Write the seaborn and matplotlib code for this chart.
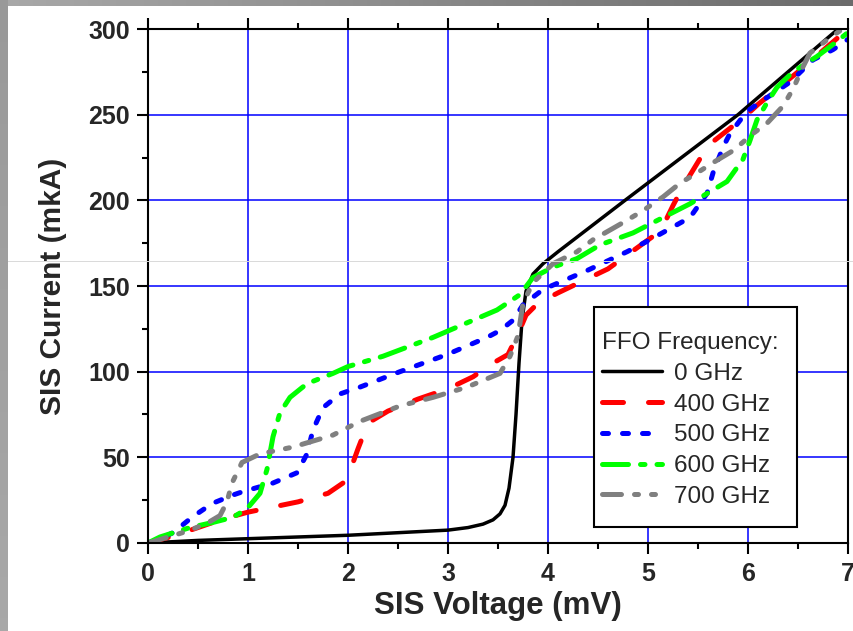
import numpy as np
import pandas as pd
import matplotlib
matplotlib.use("Agg")
import matplotlib.pyplot as plt
from matplotlib.lines import Line2D
from matplotlib.patches import Rectangle
import seaborn as sns

# ---- I-V curves of the SIS junction pumped by the FFO ----
v_0ghz = [0, 0.5, 1.0, 1.5, 2.0, 2.5, 3.0, 3.2, 3.35, 3.45, 3.52, 3.57, 3.61, 3.65,
          3.68, 3.71, 3.74, 3.78, 3.85, 3.95, 4.1, 4.77, 5.9, 6.9]
i_0ghz = [0, 1.5, 2.5, 3.5, 4.5, 6, 7.5, 9, 11, 13.5, 17, 22, 32, 50,
          75, 105, 130, 147, 157, 163, 170, 200, 250, 300]

v_400ghz = [0, 0.25, 0.5, 0.75, 1.0, 1.25, 1.5, 1.8, 1.95, 2.02, 2.1, 2.2, 2.4, 2.7,
            3.0, 3.25, 3.45, 3.6, 3.7, 3.78, 3.9, 4.1, 4.6, 5.05, 5.15, 5.25, 5.35,
            5.6, 5.95, 6.1, 6.5, 7.0]
i_400ghz = [0, 4, 9, 14, 18, 21, 24, 29, 35, 42, 55, 70, 77, 84,
            90, 97, 105, 110, 122, 133, 140, 146, 160, 179, 185, 197, 208,
            232, 248, 256, 275, 300]

v_500ghz = [0, 0.1, 0.25, 0.44, 0.64, 0.85, 0.95, 1.25, 1.49, 1.59, 1.65, 1.75, 1.92,
            2.12, 2.52, 2.99, 3.39, 3.52, 3.65, 3.75, 3.95, 4.15, 4.39, 4.79, 5.02,
            5.42, 5.59, 5.65, 5.75, 5.82, 5.99, 6.19, 6.42, 6.65, 6.85, 7.0]
i_500ghz = [0, 2, 6, 15, 23, 28, 30, 35, 41, 52, 66, 79, 87,
            91, 100, 110, 120, 124, 130, 139, 148, 153, 159, 170, 177,
            190, 204, 216, 231, 239, 252, 260, 269, 282, 288, 294]

v_600ghz = [0, 0.12, 0.42, 0.65, 0.85, 0.99, 1.12, 1.19, 1.25, 1.32, 1.42, 1.59, 1.85,
            2.0, 2.35, 2.85, 3.49, 3.72, 3.85, 4.05, 4.29, 4.52, 4.85, 5.05, 5.42,
            5.79, 5.95, 6.02, 6.09, 6.19, 6.29, 6.45, 6.69, 6.85, 7.0]
i_600ghz = [0, 3.5, 9, 12, 15, 20, 29, 43, 62, 76, 85, 93, 99,
            103, 109, 120, 136, 145, 155, 161, 166, 174, 181, 187, 198,
            211, 224, 235, 247, 257, 266, 275, 284, 291, 298]

v_700ghz = [0, 0.12, 0.4, 0.59, 0.72, 0.79, 0.84, 0.94, 1.12, 1.45, 1.85, 2.12, 2.52,
            2.85, 3.19, 3.52, 3.62, 3.7, 3.75, 3.85, 4.05, 4.29, 4.45, 4.75, 4.95,
            5.15, 5.32, 5.49, 5.65, 5.85, 6.05, 6.19, 6.35, 6.45, 6.55, 6.62, 6.82, 6.92]
i_700ghz = [0, 2, 7, 11.5, 16, 24, 35, 47, 52, 56, 63, 71, 80,
            85, 91, 99, 109, 121, 140, 152, 163, 170, 177, 187, 194,
            202, 210, 216, 222, 229, 239, 245, 255, 265, 278, 286, 295, 299]

series_labels = ["0 GHz", "400 GHz", "500 GHz", "600 GHz", "700 GHz"]
series_colors = ["#000000", "#ff0000", "#0000ff", "#00ff00", "#808080"]

x_ticks = [0, 1, 2, 3, 4, 5, 6, 7]
x_minor = [0.5, 1.5, 2.5, 3.5, 4.5, 5.5, 6.5]
y_ticks = [0, 50, 100, 150, 200, 250, 300]
y_minor = [25, 75, 125, 175, 225, 275]

x_label = "SIS Voltage (mV)"
y_label = "SIS Current (mkA)"
legend_title = "FFO Frequency:"

# ---- long-form table ----
curves = [(v_0ghz, i_0ghz), (v_400ghz, i_400ghz), (v_500ghz, i_500ghz),
          (v_600ghz, i_600ghz), (v_700ghz, i_700ghz)]
frames = []
for lab, (v, i) in zip(series_labels, curves):
    frames.append(pd.DataFrame({"V": v, "I": i, "freq": lab}))
df = pd.concat(frames, ignore_index=True)

# ---- style ----
sns.set_style("white")
plt.rcParams["font.family"] = ["Liberation Sans", "DejaVu Sans"]

palette = dict(zip(series_labels, series_colors))
dashes = {
    "0 GHz": "",
    "400 GHz": (4.2, 5.0),
    "500 GHz": (1.2, 2.8),
    "600 GHz": (5.2, 2.4, 0.9, 2.4),
    "700 GHz": (3.8, 2.6, 0.8, 2.6, 0.8, 2.6),
}
sizes = {"0 GHz": 2.5, "400 GHz": 3.6, "500 GHz": 3.6, "600 GHz": 3.6, "700 GHz": 3.6}

fig, ax = plt.subplots(figsize=(8.54, 6.31), dpi=100)
fig.subplots_adjust(left=0.1733, right=0.993, bottom=0.1395, top=0.954)

sns.lineplot(data=df, x="V", y="I", hue="freq", style="freq", size="freq",
             hue_order=series_labels, style_order=series_labels, size_order=series_labels,
             palette=palette, dashes=dashes, sizes=sizes, estimator=None,
             legend=False, ax=ax, dash_capstyle="round", solid_capstyle="round")

ax.set_xlim(0, 7)
ax.set_ylim(0, 300)

ax.set_xticks(x_ticks, labels=[str(t) for t in x_ticks], fontsize=18, fontweight="bold")
ax.set_yticks(y_ticks, labels=[str(t) for t in y_ticks], fontsize=18, fontweight="bold")
ax.set_xticks(x_minor, minor=True)
ax.set_yticks(y_minor, minor=True)

ax.grid(which="major", color="#0000ff", linewidth=1.1)
ax.set_axisbelow(True)

for side in ["left", "bottom", "top", "right"]:
    ax.spines[side].set_visible(True)
    ax.spines[side].set_color("black")
    ax.spines[side].set_linewidth(1.5)

ax.tick_params(which="both", direction="out", top=True, right=False,
               bottom=True, left=True, width=1.5, color="black")
ax.tick_params(which="major", length=8, pad=5)
ax.tick_params(which="minor", length=4)
ax.tick_params(axis="x", which="major", pad=6)

ax.set_xlabel(x_label, fontsize=22.5, fontweight="bold", labelpad=3)
ax.set_ylabel(y_label, fontsize=21.5, fontweight="bold", labelpad=15)

# legend box: a plain frame with taller top/bottom margins than side margins
ax.add_patch(Rectangle((0.637, 0.031), 0.29, 0.428, transform=ax.transAxes,
                       facecolor="white", edgecolor="black", linewidth=1.5, zorder=4))
handles = ax.get_lines()[:len(series_labels)]
leg = ax.legend(handles, series_labels, title=legend_title,
                loc="upper left", bbox_to_anchor=(0.641, 0.42), borderaxespad=0,
                fontsize=17.5, title_fontsize=17.5, handlelength=2.5, handletextpad=0.5,
                labelspacing=0.36, borderpad=0.2, frameon=False, alignment="left")
leg.set_zorder(5)

# ---- grey slide frame along the top and left edges ----
W, H = 854, 631
top_band = np.ones((6, W, 3)) * np.linspace(0.66, 0.42, W)[None, :, None]
left_band = np.ones((H, 8, 3)) * np.linspace(0.60, 0.66, H)[:, None, None]
fig.figimage(top_band, xo=0, yo=H - 6, origin="upper", zorder=10)
fig.figimage(left_band, xo=0, yo=0, origin="upper", zorder=10)
fig.add_artist(Line2D([0, 1], [1 - 261 / H, 1 - 261 / H], transform=fig.transFigure,
                      color="#d9d9d9", linewidth=0.7, zorder=9))

fig.savefig("out.png", dpi=100)
